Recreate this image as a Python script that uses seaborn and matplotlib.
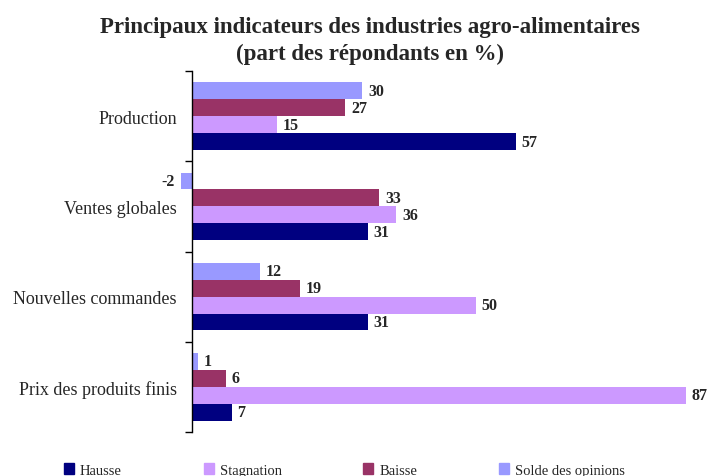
import pandas as pd
import matplotlib.pyplot as plt
from matplotlib.patches import Patch
import seaborn as sns

categories = ["Production", "Ventes globales", "Nouvelles commandes", "Prix des produits finis"]
hausse = [57, 31, 31, 7]
stagnation = [15, 36, 50, 87]
baisse = [27, 33, 19, 6]
solde = [30, -2, 12, 1]

series = ["Hausse", "Stagnation", "Baisse", "Solde des opinions"]
colors = {"Hausse": "#000080", "Stagnation": "#CC99FF",
          "Baisse": "#993366", "Solde des opinions": "#9999FF"}

df = pd.DataFrame({
    "cat": categories * 4,
    "val": hausse + stagnation + baisse + solde,
    "serie": [s for s in series for _ in categories],
})

sns.set_style("white")
plt.rcParams["font.family"] = ["Liberation Serif", "DejaVu Serif"]

fig = plt.figure(figsize=(7.13, 4.77), dpi=100)
ax = fig.add_axes([175 / 713, 1 - 433 / 477, 528 / 713, 361 / 477])

# top-to-bottom order inside each group
order_in_group = ["Solde des opinions", "Baisse", "Stagnation", "Hausse"]
sns.barplot(data=df, y="cat", x="val", hue="serie", hue_order=order_in_group,
            order=categories, palette=colors, orient="h", width=0.75,
            saturation=1, errorbar=None, legend=False, linewidth=0, ax=ax)

for c in ax.containers:
    ax.bar_label(c, fmt="%d", padding=4, fontsize=11.5, fontweight="bold")

ax.set_xlim(-3, 90)
ax.set_ylim(3.5, -0.5)
ax.set_xlabel("")
ax.set_ylabel("")
ax.set_xticks([])
for s in ["top", "right", "bottom"]:
    ax.spines[s].set_visible(False)
ax.spines["left"].set_position(("data", 0))
ax.spines["left"].set_color("black")
ax.spines["left"].set_linewidth(1)

ax.set_yticks(range(len(categories)))
ax.set_yticklabels(categories, fontsize=13)
ax.set_yticks([-0.5, 0.5, 1.5, 2.5, 3.5], minor=True)
ax.tick_params(axis="y", which="major", length=0, pad=11)
ax.tick_params(axis="y", which="minor", length=5, width=1, color="black", direction="out", left=True)

fig.text(0.519, 0.943, "Principaux indicateurs des industries agro-alimentaires",
         ha="center", va="center", fontsize=16.5, fontweight="bold")
fig.text(0.519, 0.885, "(part des répondants en %)",
         ha="center", va="center", fontsize=16.5, fontweight="bold")

handles = [Patch(color=colors[s]) for s in series]
fig.legend(handles, series, loc="center left", bbox_to_anchor=(64 / 713, 1 - 471 / 477),
           ncol=4, frameon=False, fontsize=10.5, handlelength=0.7, handleheight=0.7,
           handletextpad=0.4, columnspacing=5.6, borderpad=0, borderaxespad=0)

fig.savefig("out.png", dpi=100)
